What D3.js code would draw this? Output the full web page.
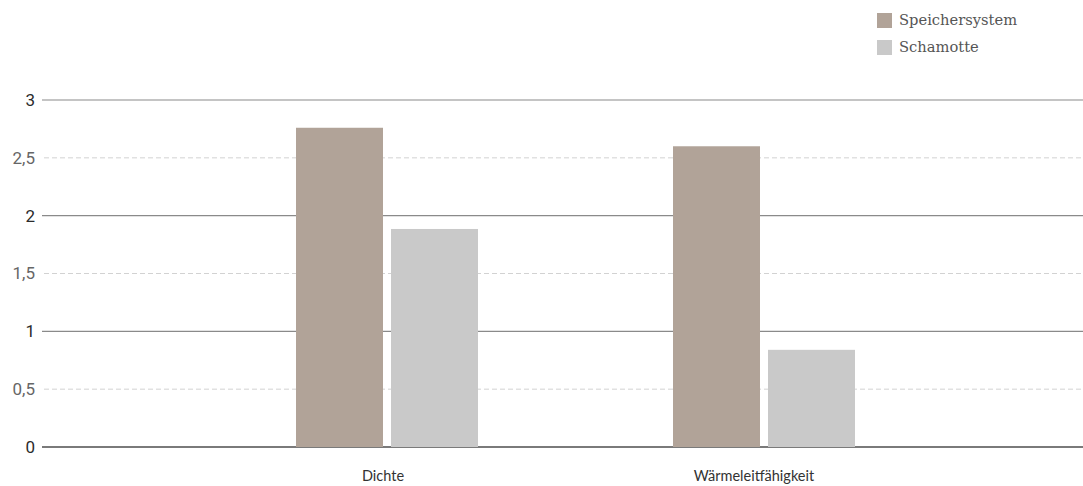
<!DOCTYPE html>
<html>
<head>
<meta charset="utf-8">
<script src="https://cdn.jsdelivr.net/npm/d3@7"></script>
<style>
  html, body { margin: 0; padding: 0; background: #fff; }
  svg { display: block; }
</style>
</head>
<body>
<div id="chart"></div>
<script>
var categories = ['Dichte', 'Wärmeleitfähigkeit'];
var seriesNames = ['Speichersystem', 'Schamotte'];
var speicherValues = [2.76, 2.60];
var schamotteValues = [1.885, 0.84];
var majorTicks = [0, 1, 2, 3];
var minorTicks = [0.5, 1.5, 2.5];

var colors = { 'Speichersystem': '#b1a398', 'Schamotte': '#c9c9c9' };

var totalWidth = 1083, totalHeight = 486;
var gridLeft = 42, gridRight = 1083;

var svg = d3.select('#chart').append('svg')
    .attr('width', totalWidth)
    .attr('height', totalHeight);

var yScale = d3.scaleLinear().domain([0, 3]).range([447, 100]);

var x0 = d3.scaleBand().domain(categories).range([198.5, 952.5]).padding(0);
var x1 = d3.scaleBand().domain(seriesNames).range([-91, 91]).paddingInner(8 / 95).paddingOuter(0);

var fmt = function(d) { return String(d).replace('.', ','); };

// dashed half-step grid lines
svg.append('g').selectAll('line')
    .data(minorTicks)
    .enter().append('line')
    .attr('x1', gridLeft + 2).attr('x2', gridRight)
    .attr('y1', d => yScale(d)).attr('y2', d => yScale(d))
    .attr('stroke', '#d2d2d2')
    .attr('stroke-width', 1)
    .attr('stroke-dasharray', '5,3');

// solid grid lines
svg.append('g').selectAll('line')
    .data(majorTicks)
    .enter().append('line')
    .attr('x1', gridLeft).attr('x2', gridRight)
    .attr('y1', d => yScale(d)).attr('y2', d => yScale(d))
    .attr('stroke', d => d === 0 ? '#7a7a7a' : '#8a8a8a')
    .attr('stroke-width', d => d === 0 ? 2 : 1.2);

// bars
var rows = categories.map(function(c, i) {
    return [
        { cat: c, series: 'Speichersystem', value: speicherValues[i] },
        { cat: c, series: 'Schamotte', value: schamotteValues[i] }
    ];
});

svg.append('g').selectAll('g')
    .data(rows)
    .enter().append('g')
    .attr('transform', d => 'translate(' + (x0(d[0].cat) + x0.bandwidth() / 2) + ',0)')
    .selectAll('rect')
    .data(d => d)
    .enter().append('rect')
    .attr('x', d => x1(d.series))
    .attr('y', d => yScale(d.value))
    .attr('width', x1.bandwidth())
    .attr('height', d => yScale(0) - yScale(d.value))
    .attr('fill', d => colors[d.series]);

// y tick labels
svg.append('g').selectAll('text')
    .data(majorTicks.concat(minorTicks))
    .enter().append('text')
    .attr('x', 35)
    .attr('y', d => yScale(d))
    .attr('dy', '0.35em')
    .attr('text-anchor', 'end')
    .attr('font-family', 'Roboto, sans-serif')
    .attr('font-size', 17)
    .attr('fill', d => Number.isInteger(d) ? '#2b2b2b' : '#666')
    .text(fmt);

// category labels
svg.append('g').selectAll('text')
    .data(categories)
    .enter().append('text')
    .attr('x', (d, i) => x0(d) + x0.bandwidth() / 2 - (i === 0 ? 4 : 10))
    .attr('y', 481)
    .attr('text-anchor', 'middle')
    .attr('font-family', 'Lato, sans-serif')
    .attr('font-size', 14.5)
    .attr('fill', '#333')
    .text(d => d);

// legend
var legend = svg.append('g').attr('transform', 'translate(877,13)');
var items = legend.selectAll('g')
    .data(seriesNames)
    .enter().append('g')
    .attr('transform', (d, i) => 'translate(0,' + (i * 27) + ')');
items.append('rect')
    .attr('width', 15).attr('height', 15)
    .attr('fill', d => colors[d]);
items.append('text')
    .attr('x', 22)
    .attr('y', 12)
    .attr('font-family', '"DejaVu Serif", serif')
    .attr('font-size', 14.7)
    .attr('fill', '#555')
    .text(d => d);
</script>
</body>
</html>
